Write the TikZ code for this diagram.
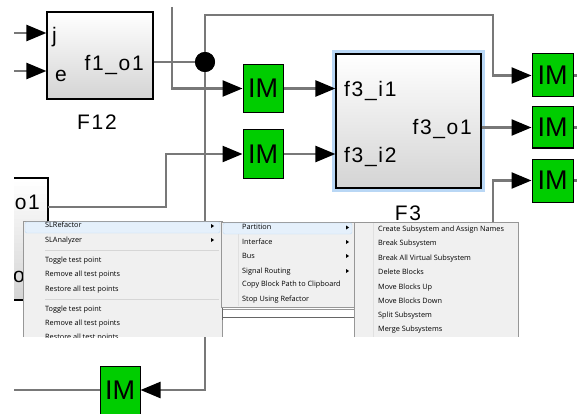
\documentclass[tikz,border=0pt]{standalone}
\usepackage{fontspec}
\setmainfont{Liberation Sans}
\newfontfamily\menufont{Open Sans}
\newfontfamily\blkfont[LetterSpace=8]{Liberation Sans}
\usetikzlibrary{arrows.meta,shapes}

\definecolor{sigline}{RGB}{120,120,120}
\definecolor{imgreen}{RGB}{0,205,0}
\definecolor{menubg}{RGB}{240,240,240}
\definecolor{menuedge}{RGB}{151,151,151}
\definecolor{hilite}{RGB}{229,240,251}
\definecolor{hiliteedge}{RGB}{196,220,245}
\definecolor{selblue}{RGB}{185,215,245}
\definecolor{blkgray}{RGB}{212,212,212}

\begin{document}
\begin{tikzpicture}[x=1pt,y=-1pt,
	sig/.style={draw=sigline,line width=2.4pt},
	arr/.style={-{Triangle[length=20pt,width=16pt,color=black]}},
	blk/.style={draw=black,line width=1.2pt,top color=white,bottom color=blkgray,inner sep=0pt},
	im/.style={draw=black,line width=1pt,fill=imgreen,inner sep=0pt,minimum width=40pt,
		font=\fontsize{27}{27}\selectfont},
	lbl/.style={inner sep=0pt,font=\blkfont\fontsize{21}{24}\selectfont},
	mitem/.style={inner sep=0pt,anchor=base west,text=black,font=\menufont\fontsize{7.3}{8}\selectfont},
	msep/.style={draw=black!16,line width=0.8pt}]
	\useasboundingbox (0,0) rectangle (577,414);

	% left block, cut by the window edge
	\foreach \i [evaluate=\i as \p using int(\i*3.45)] in {0,...,29}
		\fill[blkgray!\p!white] (14,178+4.07*\i) rectangle (48,182.5+4.07*\i);
	\draw[black,line width=1.2pt] (14,178) -- (48,178) -- (48,300) -- (14,300);
	\begin{scope}
		\clip (14,170) rectangle (60,310);
		\node[lbl,anchor=base east] (po1l) at (40,209) {o1};
		\node[lbl,anchor=base west] (po2l) at (13,282) {o2};
	\end{scope}

	\begin{scope}
		\clip (14,7) rectangle (577,414);
		% blocks
		\node[blk,minimum width=106pt,minimum height=87pt] (F12) at (100,55.5) {};
		\node[lbl,anchor=base west] (pj) at (52,43) {j};
		\node[lbl,anchor=base west] (pe) at (55,82) {e};
		\node[lbl,anchor=base east] (pf1o1) at (144,71) {f1\_o1};
		\node[lbl,anchor=base] (nF12) at (97,130) {F12};

		\draw[selblue,line width=3.5pt] (333.5,51.5) rectangle (483.5,190.5);
		\node[blk,minimum width=145pt,minimum height=134pt] (F3) at (408.5,121) {};
		\node[lbl,anchor=base west] (pi1) at (344,97) {f3\_i1};
		\node[lbl,anchor=base west] (pi2) at (344,162) {f3\_i2};
		\node[lbl,anchor=base east] (po1) at (472,135) {f3\_o1};
		\node[lbl,anchor=base] (nF3) at (408,220) {F3};

		\node[im,minimum height=48pt] (IM1) at (263,88.5) {IM};
		\node[im,minimum height=48pt] (IM2) at (263,154) {IM};
		\node[im,minimum width=41pt,minimum height=43pt] (IMa) at (552.5,75.5) {IM};
		\node[im,minimum width=41pt,minimum height=41pt] (IMb) at (552.5,127.5) {IM};
		\node[im,minimum width=41pt,minimum height=43pt] (IMc) at (552.5,180.5) {IM};
		\node[im,minimum height=48pt] (IMd) at (120,390) {IM};

		\coordinate (jin) at (0,33);
		\coordinate (ein) at (0,71);
		\coordinate (vtop) at (172,7);
		\coordinate (ctop) at (493,15);
		\coordinate (cbend) at (166,207);
		\coordinate (cdown) at (493,260);
		\coordinate (dout) at (0,390);
		\node[circle,fill=black,minimum size=20pt,inner sep=0pt] (dot) at (205,62) {};

		% signal lines
		\draw[sig,arr] (jin) -- (jin -| F12.west);
		\draw[sig,arr] (ein) -- (ein -| F12.west);
		\draw[sig] (F12.east |- dot) -- (dot.center);
		\draw[sig,arr] (vtop) |- (IM1.west);
		\draw[sig,arr] (dot.center) |- (ctop) |- (IMa.west);
		\draw[sig,arr] (dot.center) |- (IMd.east);
		\draw[sig] (IMd.west) -- (dout);
		\draw[sig,arr] (48,207) -- (cbend) |- (IM2.west);
		\draw[sig,arr] (IM1.east) -- (IM1.east -| F3.west);
		\draw[sig,arr] (IM2.east) -- (IM2.east -| F3.west);
		\draw[sig,arr] (F3.east |- IMb) -- (IMb.west);
		\draw[sig,arr] (cdown) |- (IMc.west);
		\draw[sig] (IMa.east) -- ++(10,0);
		\draw[sig] (IMb.east) -- ++(10,0);
		\draw[sig] (IMc.east) -- ++(10,0);
		\node[circle,fill=black,minimum size=20pt,inner sep=0pt] at (dot) {};
	\end{scope}

	% context menus
	\fill[menubg] (23,221) rectangle (222,337);
	\draw[menuedge,line width=0.8pt] (23,337) -- (23,221) -- (222,221) -- (222,337);
	\draw[hiliteedge,fill=hilite,rounded corners=1.5pt] (25,222) rectangle (220,233);
	\draw[msep] (45,250) -- (219,250);
	\draw[msep] (45,299) -- (219,299);
	\begin{scope}
		\clip (23,221) rectangle (222,337);
		\node[mitem] (m1a) at (45,227.5) {SLRefactor};
		\node[mitem] (m1b) at (45,242) {SLAnalyzer};
		\node[mitem] (m1c) at (45,262.5) {Toggle test point};
		\node[mitem] (m1d) at (45,276.5) {Remove all test points};
		\node[mitem] (m1e) at (45,291) {Restore all test points};
		\node[mitem] (m1f) at (45,311) {Toggle test point};
		\node[mitem] (m1g) at (45,325) {Remove all test points};
		\node[mitem] (m1h) at (45,339.5) {Restore all test points};
	\end{scope}
	\fill (211,224) -- (214,226) -- (211,228) -- cycle;
	\fill (211,238) -- (214,240) -- (211,242) -- cycle;

	\draw[menuedge,line width=1pt] (222,309) -- (354,309);
	\draw[black!60,line width=1pt] (222,317) -- (354,317);
	\draw[black!60,line width=1pt] (222,307) -- (222,320);
	\draw[menuedge,line width=0.8pt,fill=menubg] (221,222) rectangle (354,307);
	\draw[hiliteedge,fill=hilite,rounded corners=1.5pt] (223,223) rectangle (352,234);
	\draw[black!12,line width=0.8pt] (238,234) -- (238,306);
	\node[mitem] (m2a) at (242,229.5) {Partition};
	\node[mitem] (m2b) at (242,244) {Interface};
	\node[mitem] (m2c) at (242,258) {Bus};
	\node[mitem] (m2d) at (242,273) {Signal Routing};
	\node[mitem] (m2e) at (242,286.5) {Copy Block Path to Clipboard};
	\node[mitem] (m2f) at (242,301.5) {Stop Using Refactor};
	\fill (346,225.5) -- (349,227.5) -- (346,229.5) -- cycle;
	\fill (346,240) -- (349,242) -- (346,244) -- cycle;
	\fill (346,254) -- (349,256) -- (346,258) -- cycle;
	\fill (346,269) -- (349,271) -- (346,273) -- cycle;

	\fill[menubg] (354,222) rectangle (518,337);
	\draw[menuedge,line width=0.8pt] (354,337) -- (354,222) -- (518,222) -- (518,337);
	\draw[black!12,line width=0.8pt] (373,223) -- (373,337);
	\node[mitem] (m3a) at (378,231.5) {Create Subsystem and Assign Names};
	\node[mitem] (m3b) at (378,245.5) {Break Subsystem};
	\node[mitem] (m3c) at (378,260) {Break All Virtual Subsystem};
	\node[mitem] (m3d) at (378,274.5) {Delete Blocks};
	\node[mitem] (m3e) at (378,289) {Move Blocks Up};
	\node[mitem] (m3f) at (378,303) {Move Blocks Down};
	\node[mitem] (m3g) at (378,317.5) {Split Subsystem};
	\node[mitem] (m3h) at (378,331.5) {Merge Subsystems};
\end{tikzpicture}
\end{document}
